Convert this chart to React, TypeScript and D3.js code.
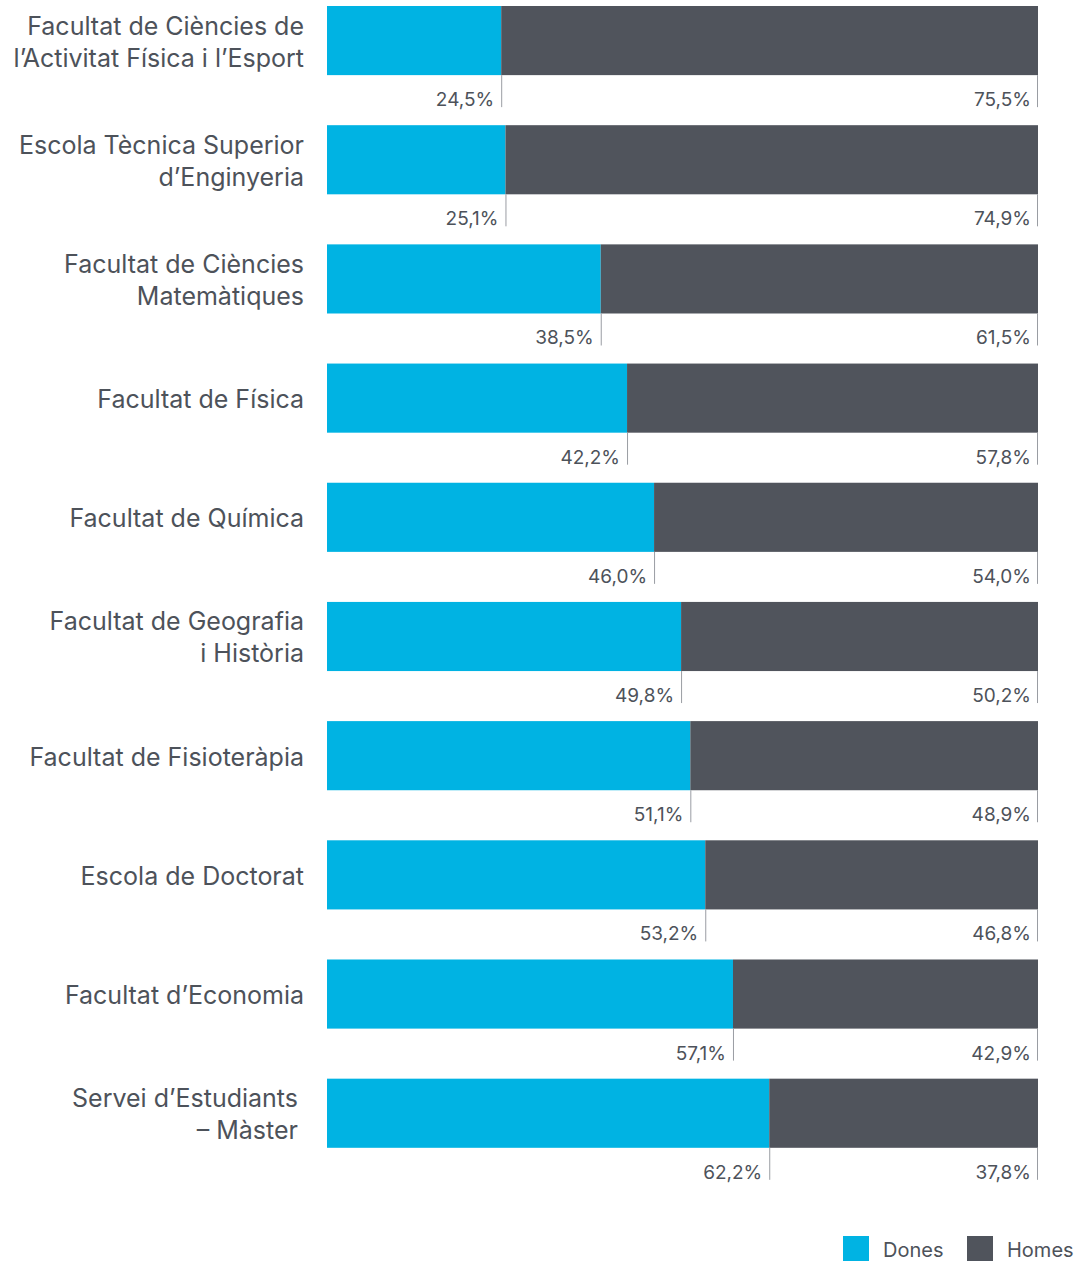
import React, { useEffect, useRef } from 'react';
import * as d3 from 'd3';

const categories = [
  ['Facultat de Ciències de', 'l’Activitat Física i l’Esport'],
  ['Escola Tècnica Superior', 'd’Enginyeria'],
  ['Facultat de Ciències', 'Matemàtiques'],
  ['Facultat de Física'],
  ['Facultat de Química'],
  ['Facultat de Geografia', 'i Història'],
  ['Facultat de Fisioteràpia'],
  ['Escola de Doctorat'],
  ['Facultat d’Economia'],
  ['Servei d’Estudiants', '– Màster'],
];
const dones = [24.5, 25.1, 38.5, 42.2, 46.0, 49.8, 51.1, 53.2, 57.1, 62.2];
const homes = [75.5, 74.9, 61.5, 57.8, 54.0, 50.2, 48.9, 46.8, 42.9, 37.8];
const seriesNames = ['Dones', 'Homes'];

const BLUE = '#00b3e3';
const DARK = '#50545c';
const TEXT = '#4d525a';
const FONT = 'Inter, sans-serif';

const fmt = (v: number) => v.toFixed(1).replace('.', ',') + '%';

function draw(container: HTMLDivElement) {
  d3.select(container).selectAll('*').remove();
  const W = 1076, H = 1261;
  const svg = d3.select(container).append('svg')
    .attr('width', W).attr('height', H)
    .style('display', 'block')
    .style('font-family', FONT);

  const x = d3.scaleLinear().domain([0, 100]).range([327, 1038]);
  const idx = categories.map((_, i) => i);
  const y = d3.scaleBand<number>().domain(idx)
    .range([6, 6 + 9 * 119.2 + 69]).paddingInner(0.42).paddingOuter(0);
  const bw = y.bandwidth();

  const rows = svg.selectAll('g.row').data(idx).enter().append('g').attr('class', 'row');

  rows.append('rect')
    .attr('x', x(0)).attr('y', i => y(i)!)
    .attr('width', i => x(dones[i]) - x(0)).attr('height', bw)
    .attr('fill', BLUE);
  rows.append('rect')
    .attr('x', i => x(dones[i])).attr('y', i => y(i)!)
    .attr('width', i => x(dones[i] + homes[i]) - x(dones[i])).attr('height', bw)
    .attr('fill', DARK);

  // tick lines under the split and the end
  rows.append('line')
    .attr('x1', i => x(dones[i]) + 0.5).attr('x2', i => x(dones[i]) + 0.5)
    .attr('y1', i => y(i)! + bw).attr('y2', i => y(i)! + bw + 32)
    .attr('stroke', '#9a9da3').attr('stroke-width', 1);
  rows.append('line')
    .attr('x1', x(100) - 0.5).attr('x2', x(100) - 0.5)
    .attr('y1', i => y(i)! + bw).attr('y2', i => y(i)! + bw + 32)
    .attr('stroke', '#9a9da3').attr('stroke-width', 1);

  rows.append('text')
    .attr('x', i => x(dones[i]) - 7).attr('y', i => y(i)! + bw + 31)
    .attr('text-anchor', 'end').attr('fill', TEXT)
    .style('font-size', '19px')
    .text(i => fmt(dones[i]));
  rows.append('text')
    .attr('x', x(100) - 7).attr('y', i => y(i)! + bw + 31)
    .attr('text-anchor', 'end').attr('fill', TEXT)
    .style('font-size', '19px')
    .text(i => fmt(homes[i]));

  // category labels
  rows.each(function (i) {
    const lines = categories[i];
    const cy = y(i)! + bw / 2;
    const lh = 32;
    const right = i === categories.length - 1 ? 298 : 304;
    const t = d3.select(this).append('text')
      .attr('text-anchor', 'end').attr('fill', TEXT)
      .style('font-size', '25px');
    lines.forEach((l, k) => {
      t.append('tspan')
        .attr('x', right)
        .attr('y', cy + (k - (lines.length - 1) / 2) * lh + 10)
        .text(l);
    });
  });

  // legend
  const legend = svg.append('g');
  const legendX = [843, 967];
  seriesNames.forEach((name, k) => {
    legend.append('rect')
      .attr('x', legendX[k]).attr('y', 1236)
      .attr('width', 26).attr('height', 25)
      .attr('fill', k === 0 ? BLUE : DARK);
    legend.append('text')
      .attr('x', legendX[k] + 40).attr('y', 1257)
      .attr('fill', TEXT).style('font-size', '20px')
      .text(name);
  });
}

export default function App() {
  const ref = useRef<HTMLDivElement>(null);
  useEffect(() => {
    if (ref.current) draw(ref.current);
  }, []);
  return <div ref={ref} style={{ position: 'absolute', left: 0, top: 0 }} />;
}
